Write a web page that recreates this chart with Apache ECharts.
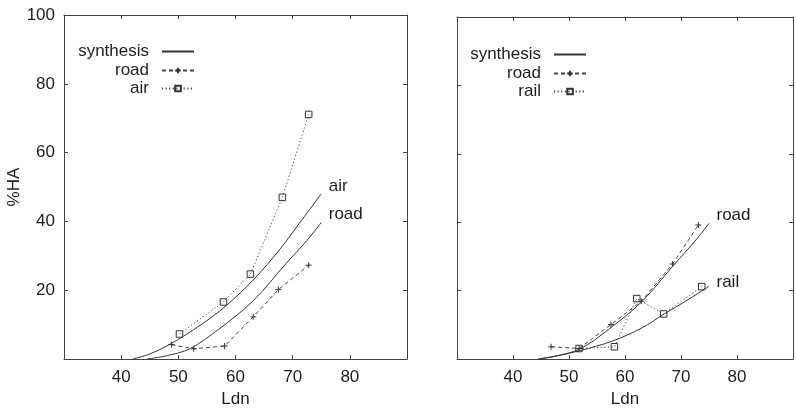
<!DOCTYPE html>
<html>
<head>
<meta charset="utf-8">
<script src="https://cdn.jsdelivr.net/npm/echarts@6/dist/echarts.min.js"></script>
<style>
  html, body { margin: 0; padding: 0; background: #fff; }
  #chart { width: 796px; height: 413px; }
</style>
</head>
<body>
<div id="chart"></div>
<script>
// Tick labels shown on the axes
const ldnTicks = [40, 50, 60, 70, 80];
const haTicks = [20, 40, 60, 80, 100];

// Left panel: synthesis curves and survey data (air, road)
const synthAirLdn = [42, 45, 48.5, 53.8, 58.4, 63.1, 67.8, 71.5, 75];
const synthAirHA  = [0, 1.5, 4.3, 9.8, 15.6, 23.0, 32.0, 40.2, 48.0];
const synthRoadLdn = [44.5, 48, 52, 57, 63, 68.8, 72.5, 75];
const synthRoadHA  = [0, 1.0, 3.0, 8.6, 16.8, 27.7, 34.5, 39.7];
const roadLeftLdn = [48.8, 52.7, 58.1, 63.1, 67.5, 72.8];
const roadLeftHA  = [4.2, 3.0, 3.8, 12.3, 20.2, 27.3];
const airLdn = [50.2, 57.9, 62.6, 68.2, 72.8];
const airHA  = [7.3, 16.6, 24.7, 47.0, 71.1];

// Right panel: synthesis curves and survey data (road, rail)
const synthRailLdn = [44.5, 48, 52, 57.8, 63, 67, 71.1, 75];
const synthRailHA  = [0, 1.0, 2.5, 5.3, 9.1, 13.2, 17.2, 21.3];
const roadRightLdn = [46.8, 51.8, 57.5, 62.9, 68.5, 73.1];
const roadRightHA  = [3.6, 3.1, 10.1, 16.9, 27.8, 39.2];
const railLdn = [51.8, 58.1, 62.1, 66.9, 73.7];
const railHA  = [3.1, 3.6, 17.7, 13.2, 21.2];

const FONT = 'Liberation Sans, Arial, Helvetica, sans-serif';
const TEXT = '#1e1e1e';
const AXIS = '#444';
const PLUS = 'path://M0,5L10,5M5,0L5,10';

function pairs(xs, ys) { return xs.map((x, i) => [x, ys[i]]); }

// Solid synthesis curve with its name written just past the last point
function synthesis(xs, ys, tag, gi, dy) {
  const data = pairs(xs, ys).map((p, i) => i === xs.length - 1
    ? { value: p, label: { show: true, formatter: tag, position: 'right', distance: 7,
        offset: [0, dy], fontSize: 17, color: TEXT, fontFamily: FONT } }
    : p);
  return {
    name: 'synthesis', type: 'line', xAxisIndex: gi * 2, yAxisIndex: gi * 2,
    data, smooth: 0.35,
    symbol: 'circle', symbolSize: 1, showSymbol: true, showAllSymbol: true,
    itemStyle: { color: 'transparent', borderWidth: 0 },
    lineStyle: { color: '#333', width: 1 },
    label: { show: false }, silent: true, z: 3
  };
}

function survey(name, xs, ys, gi, kind) {
  const dashed = kind === 'plus';
  return {
    name, type: 'line', xAxisIndex: gi * 2, yAxisIndex: gi * 2,
    data: pairs(xs, ys),
    symbol: dashed ? PLUS : 'rect', symbolSize: dashed ? 6 : 6.5,
    showAllSymbol: true,
    itemStyle: { color: 'transparent', borderColor: '#333', borderWidth: 1 },
    lineStyle: { color: '#444', width: 1, type: dashed ? [4, 3] : [1.2, 2.4] },
    silent: true, z: 4
  };
}

function xAxes(gi) {
  const base = {
    gridIndex: gi, type: 'value', min: 30, max: 90, interval: 10,
    axisLine: { show: true, onZero: false, lineStyle: { color: AXIS, width: 1 } },
    axisTick: { show: true, inside: true, length: 4, lineStyle: { color: AXIS } },
    splitLine: { show: false }
  };
  return [
    Object.assign({}, base, {
      position: 'bottom',
      axisLabel: { formatter: v => ldnTicks.includes(v) ? String(v) : '', fontSize: 17,
        color: TEXT, fontFamily: FONT, margin: 10 },
      name: 'Ldn', nameLocation: 'middle', nameGap: 31,
      nameTextStyle: { fontSize: 17, color: TEXT, fontFamily: FONT }
    }),
    Object.assign({}, base, { position: 'top', axisLabel: { show: false } })
  ];
}

function yAxes(gi, labelled) {
  const base = {
    gridIndex: gi, type: 'value', min: 0, max: 100, interval: 20,
    axisLine: { show: true, onZero: false, lineStyle: { color: AXIS, width: 1 } },
    axisTick: { show: true, inside: true, length: 4, lineStyle: { color: AXIS } },
    splitLine: { show: false }
  };
  const left = Object.assign({}, base, {
    position: 'left',
    axisLabel: labelled
      ? { formatter: v => haTicks.includes(v) ? String(v) : '', fontSize: 17, color: TEXT,
          fontFamily: FONT, margin: 9 }
      : { show: false }
  });
  if (labelled) {
    Object.assign(left, {
      name: '%HA', nameLocation: 'middle', nameRotate: 90, nameGap: 40,
      nameTextStyle: { fontSize: 17, color: TEXT, fontFamily: FONT }
    });
  }
  return [left, Object.assign({}, base, { position: 'right', axisLabel: { show: false } })];
}

// One legend row: label right-aligned, line sample to its right
function legendRow(name, right, top) {
  return {
    data: [name], right, top, orient: 'horizontal', align: 'right', padding: 0,
    itemWidth: 32, itemHeight: 7, selectedMode: false,
    textStyle: { fontSize: 17, color: TEXT, fontFamily: FONT, padding: [0, 8, 0, 0] }
  };
}

const option = {
  animation: false,
  backgroundColor: '#fff',
  grid: [
    { left: 64, top: 15, width: 343, height: 349 },
    { left: 457, top: 17, width: 345, height: 350 }
  ],
  xAxis: [...xAxes(0), ...xAxes(1)],
  yAxis: [...yAxes(0, true), ...yAxes(1, false)],
  legend: [
    legendRow('synthesis', 601, 43),
    legendRow('road', 601, 62),
    legendRow('air', 601, 80),
    legendRow('synthesis', 209, 46),
    legendRow('road', 209, 65),
    legendRow('rail', 209, 83)
  ],
  series: [
    synthesis(synthAirLdn, synthAirHA, 'air', 0, -8),
    synthesis(synthRoadLdn, synthRoadHA, 'road', 0, -8),
    survey('road', roadLeftLdn, roadLeftHA, 0, 'plus'),
    survey('air', airLdn, airHA, 0, 'rect'),
    synthesis(synthRoadLdn, synthRoadHA, 'road', 1, -8),
    synthesis(synthRailLdn, synthRailHA, 'rail', 1, -4),
    survey('road', roadRightLdn, roadRightHA, 1, 'plus'),
    survey('rail', railLdn, railHA, 1, 'rect')
  ]
};

echarts.init(document.getElementById('chart'), null, { renderer: 'canvas' }).setOption(option);
</script>
</body>
</html>
